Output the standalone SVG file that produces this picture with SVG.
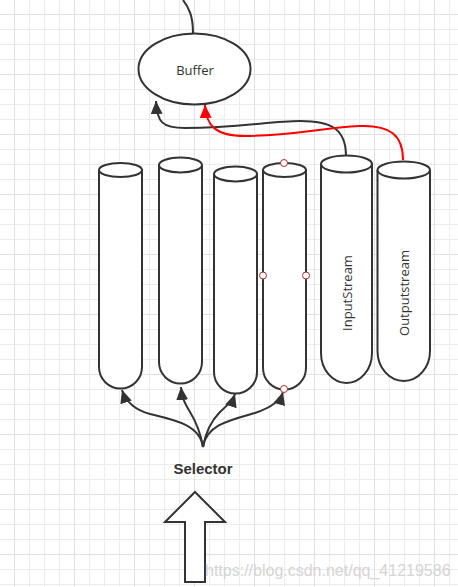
<svg xmlns="http://www.w3.org/2000/svg" width="458" height="587" viewBox="0 0 458 587">
<style>
.sh{fill:#fff;stroke:#333;stroke-width:2}
.cn{fill:none;stroke:#333;stroke-width:2}
.red{fill:none;stroke:#f00;stroke-width:2}
.lbl{font-family:"Open Sans","Noto Sans",sans-serif;font-size:13px;fill:#333}
.sel{font-family:"Liberation Sans",Arial,sans-serif;font-size:15px;font-weight:bold;fill:#333}
.pt{fill:#fff;stroke:#b03030;stroke-width:1}
</style>
<defs>
<pattern id="minor" width="15" height="15" patternUnits="userSpaceOnUse">
<path d="M14.5,0 V15 M0,14.5 H15" stroke="#ececec" stroke-width="1" fill="none"/>
</pattern>
<pattern id="major" width="60" height="60" patternUnits="userSpaceOnUse">
<path d="M14.5,0 V60 M0,14.5 H60" stroke="#e0e0e0" stroke-width="1" fill="none"/>
</pattern>
<marker id="ah" markerWidth="14" markerHeight="12" refX="13" refY="6" orient="auto" markerUnits="userSpaceOnUse">
<path d="M0,0 L13,6 L0,12 Z" fill="#333"/>
</marker>
<marker id="ahr" markerWidth="14" markerHeight="12" refX="13" refY="6" orient="auto" markerUnits="userSpaceOnUse">
<path d="M0,0 L13,6 L0,12 Z" fill="#f00"/>
</marker>
</defs>
<rect width="458" height="587" fill="#fff"/>
<rect width="458" height="587" fill="url(#minor)"/>
<rect width="458" height="587" fill="url(#major)"/>

<g id="connectors">
<path class="cn" d="M193,33 C193,16 189,8 183,0"/>
<path class="cn" d="M346,156 C346,128 330,121 300,121 C270,121 240,128 185,128 C162,128 157,122 156,101" marker-end="url(#ah)"/>
<path class="red" d="M403,160 C403,135 390,125 360,126 C320,128 290,136 245,136 C216,136 206,126 205,105" marker-end="url(#ahr)"/>
<path class="cn" d="M203,447 C200,425 175,420 150,414 C135,410 126,402 122,390" marker-end="url(#ah)"/>
<path class="cn" d="M203,447 C200,430 195,420 190,412 C185,404 182,398 181,387" marker-end="url(#ah)"/>
<path class="cn" d="M203,447 C206,430 212,420 220,412 C228,405 233,400 235,394" marker-end="url(#ah)"/>
<path class="cn" d="M203,447 C206,425 230,420 255,413 C270,408 280,402 283,392" marker-end="url(#ah)"/>
</g>

<g id="buffer">
<ellipse class="sh" cx="194.5" cy="69" rx="56" ry="35.5"/>
<text class="lbl" x="195" y="75" text-anchor="middle">Buffer</text>
</g>

<g id="cyl1">
<path class="sh" d="M99,170 V367 A21.5,21.5 0 0 0 142,367 V170"/>
<ellipse class="sh" cx="120.5" cy="170" rx="21.5" ry="7"/>
</g>
<g id="cyl2">
<path class="sh" d="M159,165 V362 A21.5,21.5 0 0 0 202,362 V165"/>
<ellipse class="sh" cx="180.5" cy="165" rx="21.5" ry="7.5"/>
</g>
<g id="cyl3">
<path class="sh" d="M214,174 V372 A21.5,21.5 0 0 0 257,372 V174"/>
<ellipse class="sh" cx="235.5" cy="174" rx="21.5" ry="7.5"/>
</g>
<g id="cyl4">
<path class="sh" d="M263,170 V368 A21.5,21.5 0 0 0 306,368 V170"/>
<ellipse class="sh" cx="284.5" cy="170" rx="21.5" ry="7"/>
<circle class="pt" cx="284" cy="163" r="3.5"/>
<circle class="pt" cx="263" cy="275.5" r="3.5"/>
<circle class="pt" cx="306" cy="275.5" r="3.5"/>
<circle class="pt" cx="284" cy="389" r="3.5"/>
</g>
<g id="inputstream">
<path class="sh" d="M321,164 V353 A25.5,30 0 0 0 372,353 V164"/>
<ellipse class="sh" cx="346.5" cy="164" rx="25.5" ry="8.5"/>
<text class="lbl" transform="translate(352,293) rotate(-90)" text-anchor="middle">InputStream</text>
</g>
<g id="outputstream">
<path class="sh" d="M377.5,170 V351 A26.25,30 0 0 0 430,351 V170"/>
<ellipse class="sh" cx="403.75" cy="170" rx="26.25" ry="8.5"/>
<text class="lbl" transform="translate(409,293) rotate(-90)" text-anchor="middle">Outputstream</text>
</g>

<g id="selector">
<text class="sel" x="203" y="474" text-anchor="middle">Selector</text>
</g>
<g id="bigarrow">
<polygon class="sh" points="195,492 225,522 205,522 205,582 185,582 185,522 165,522"/>
</g>
<text x="205" y="576" font-family="Liberation Sans,Arial,sans-serif" font-size="16" fill="#d4d4d4">https://blog.csdn.net/qq_41219586</text>
</svg>
